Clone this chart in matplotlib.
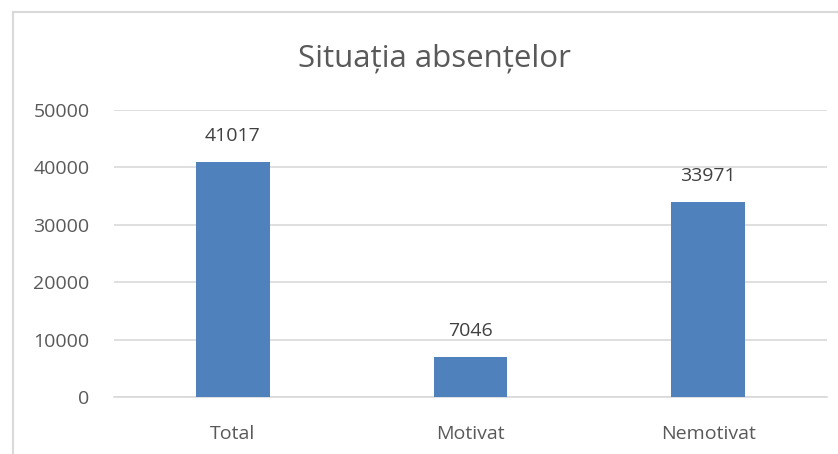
import matplotlib
matplotlib.use('Agg')
import matplotlib.pyplot as plt
from matplotlib.patches import Rectangle

categories = ['Total', 'Motivat', 'Nemotivat']
values = [41017, 7046, 33971]
yticks = [0, 10000, 20000, 30000, 40000, 50000]

plt.rcParams['font.family'] = ['Open Sans', 'DejaVu Sans']

fig = plt.figure(figsize=(8.38, 4.54), dpi=100)
ax = fig.add_axes([0.136, 0.1256, 0.851, 0.6321])

# chart border like the Excel chart area
fig.patches.append(Rectangle((13 / 838, -0.1), 1.0, 1 - 12 / 454 + 0.1,
                             transform=fig.transFigure, fill=False,
                             edgecolor='#d9d9d9', linewidth=1.5))

x = range(len(categories))
bars = ax.bar(x, values, width=0.31, color='#4f81bd', zorder=3)

for b, v in zip(bars, values):
    ax.text(b.get_x() + b.get_width() / 2, v + 2900, str(v),
            ha='center', va='bottom', fontsize=14, color='#404040')

ax.set_xlim(-0.5, 2.5)
ax.set_ylim(0, 50000)
ax.set_yticks(yticks)
ax.set_xticks(list(x))
ax.set_xticklabels(categories)
ax.tick_params(axis='both', length=0, labelsize=14, labelcolor='#595959')
ax.tick_params(axis='y', pad=17.5)
ax.tick_params(axis='x', pad=20)
ax.grid(axis='y', color='#d9d9d9', linewidth=1.2, zorder=0)
for s in ['top', 'right', 'left']:
    ax.spines[s].set_visible(False)
ax.spines['bottom'].set_color('#d9d9d9')
ax.spines['bottom'].set_linewidth(1.2)

fig.text(0.519, 0.872, 'Situația absențelor', ha='center', va='center',
         fontsize=22.5, color='#595959')

fig.savefig('out.png', dpi=100)
